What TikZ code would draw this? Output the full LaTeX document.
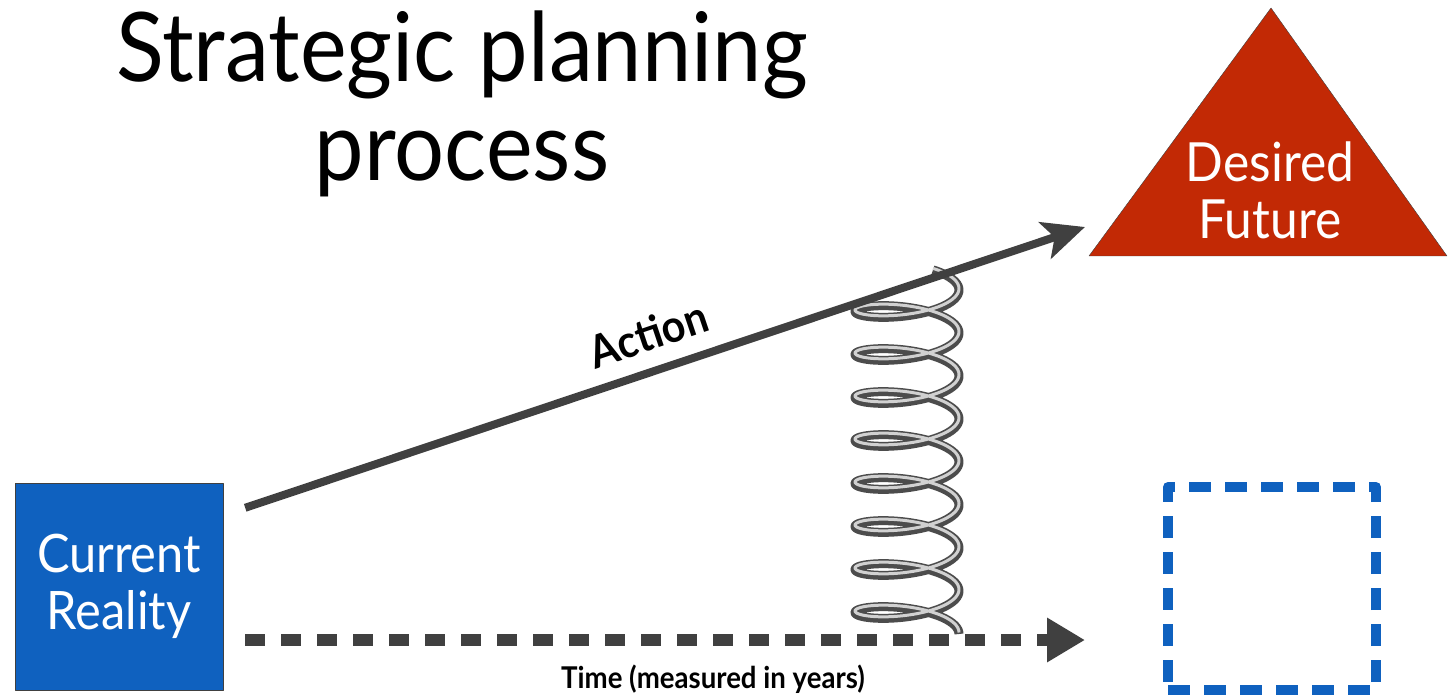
\documentclass[tikz,border=0pt]{standalone}
\usepackage{fontspec}
\setmainfont{Lato}[FakeStretch=0.92]
\usepackage{tikz}
\usetikzlibrary{arrows.meta}
\definecolor{qqwwcc}{rgb}{0.06,0.38,0.75}
\definecolor{ccttqq}{rgb}{0.76,0.16,0.02}
\definecolor{sqsqsq}{rgb}{0.25,0.25,0.25}
\definecolor{ttttzz}{rgb}{0.3,0.3,0.3}
\definecolor{ddddzz}{rgb}{0.82,0.82,0.82}
\begin{document}
\begin{tikzpicture}[line cap=butt,line join=round,x=1pt,y=-1pt]
\useasboundingbox (0,0) rectangle (1449,695);
\node[anchor=base] (title1) at (462,82) {\fontsize{96}{100}\selectfont Strategic planning};
\node[anchor=base] (title2) at (462,181) {\fontsize{96}{100}\selectfont process};
\node[draw=sqsqsq,fill=qqwwcc,minimum width=208pt,minimum height=207pt,inner sep=0pt,text=white,align=center,font=\fontsize{53}{57}\selectfont] (current) at (119,586.5) {Current\\Reality};
\draw [draw=sqsqsq,fill=ccttqq] (1089,256) coordinate (fl) -- (1271,8) coordinate (ft) -- (1447,256) coordinate (fr) -- cycle;
\node[text=white,align=center,font=\fontsize{54}{57}\selectfont] (desired) at (1270,190) {Desired\\Future};
\node[draw=qqwwcc,line width=10pt,dash pattern=on 22pt off 14pt,minimum width=208pt,minimum height=203pt] (target) at (1272,588.5) {};
\draw [color=sqsqsq,line width=12pt,dash pattern=on 20pt off 16pt,-{Triangle[length=38pt,width=42pt]}] ([shift={(22pt,-53.5pt)}]current.east) -- ([shift={(-78pt,-51.5pt)}]target.west);
\draw[color=ttttzz,line width=9pt] plot[domain=-60:2880,samples=600,smooth] ({907+52*cos(\x)},{290+\x/360*43+15*sin(\x)});
\draw[color=ddddzz,line width=3pt] plot[domain=-60:2880,samples=600,smooth] ({907+52*cos(\x)},{290+\x/360*43+15*sin(\x)-1.5});
\draw [color=sqsqsq,line width=8pt,-{Stealth[length=42pt,width=38pt,inset=10pt]}] ([shift={(22pt,-25pt)}]current.north east) -- ([shift={(-4pt,29pt)}]fl);
\node[rotate=18.6,font=\bfseries\fontsize{45}{48}\selectfont] (action) at (648,334) {Action};
\node[anchor=base,font=\bfseries\fontsize{30}{32}\selectfont] (timelbl) at (713,688) {Time (measured in years)};
\end{tikzpicture}
\end{document}
